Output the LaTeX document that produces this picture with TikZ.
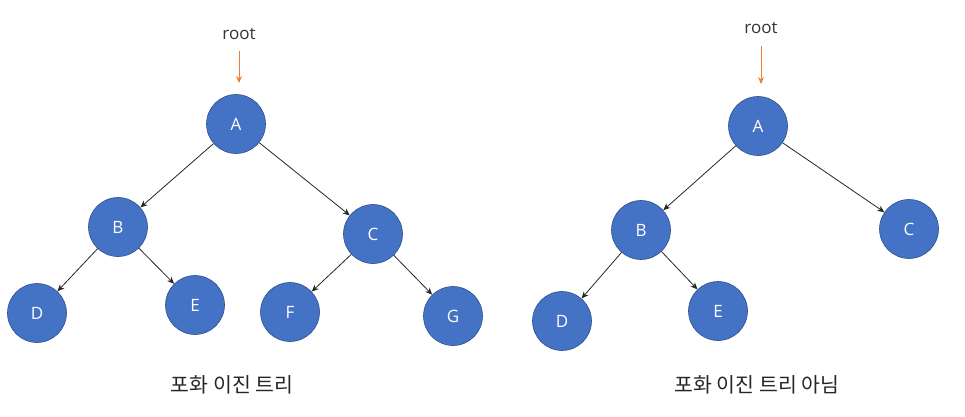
\documentclass[tikz,border=0pt]{standalone}
\usepackage{fontspec}
\setmainfont{Open Sans}
\newfontfamily\krfont{Noto Sans CJK KR}
\usetikzlibrary{arrows.meta}
\definecolor{nodeblue}{HTML}{4472C4}
\definecolor{nodeborder}{HTML}{2F528F}
\definecolor{rootorange}{HTML}{ED7D31}
\definecolor{edgegray}{HTML}{262626}
\begin{document}
\begin{tikzpicture}[x=1pt,y=-1pt,
  tnode/.style={circle,fill=nodeblue,draw=nodeborder,line width=0.6pt,minimum size=59pt,inner sep=0pt,text=white,font=\fontsize{17}{19}\selectfont},
  edge/.style={draw=edgegray,line width=0.8pt,-{Stealth[length=7pt,width=6pt]}},
  rootarrow/.style={draw=rootorange,line width=0.8pt,-{Stealth[length=7pt,width=6pt]}},
  roottext/.style={font=\fontsize{17}{19}\selectfont,text=black!80},
  caption/.style={font=\krfont\fontsize{20.5}{24}\selectfont,text=black!85}]
\useasboundingbox (0,0) rectangle (965,417);
% left tree
\node[tnode] (A1) at (236,124) {A};
\node[tnode] (B1) at (118,227) {B};
\node[tnode] (C1) at (373,234) {C};
\node[tnode] (D1) at (37,313) {D};
\node[tnode] (E1) at (195,305) {E};
\node[tnode] (F1) at (290,312) {F};
\node[tnode] (G1) at (453,316) {G};
\node[roottext] (R1) at (239,34) {root};
\coordinate (R1s) at (239,51);
\coordinate (R1e) at (239,83);
\draw[rootarrow] (R1s) -- (R1e);
\draw[edge] (A1) -- (B1);
\draw[edge] (A1) -- (C1);
\draw[edge] (B1) -- (D1);
\draw[edge] (B1) -- (E1);
\draw[edge] (C1) -- (F1);
\draw[edge] (C1) -- (G1);
\node[caption] (L1) at (232,385) {포화 이진 트리};
% right tree
\node[tnode] (A2) at (758,126) {A};
\node[tnode] (B2) at (641,230) {B};
\node[tnode] (C2) at (909,229) {C};
\node[tnode] (D2) at (562,321) {D};
\node[tnode] (E2) at (718,311) {E};
\node[roottext] (R2) at (761,28) {root};
\coordinate (R2s) at (761,46);
\coordinate (R2e) at (761,84);
\draw[rootarrow] (R2s) -- (R2e);
\draw[edge] (A2) -- (B2);
\draw[edge] (A2) -- (C2);
\draw[edge] (B2) -- (D2);
\draw[edge] (B2) -- (E2);
\node[caption] (L2) at (757,385) {포화 이진 트리 아님};
\end{tikzpicture}
\end{document}
